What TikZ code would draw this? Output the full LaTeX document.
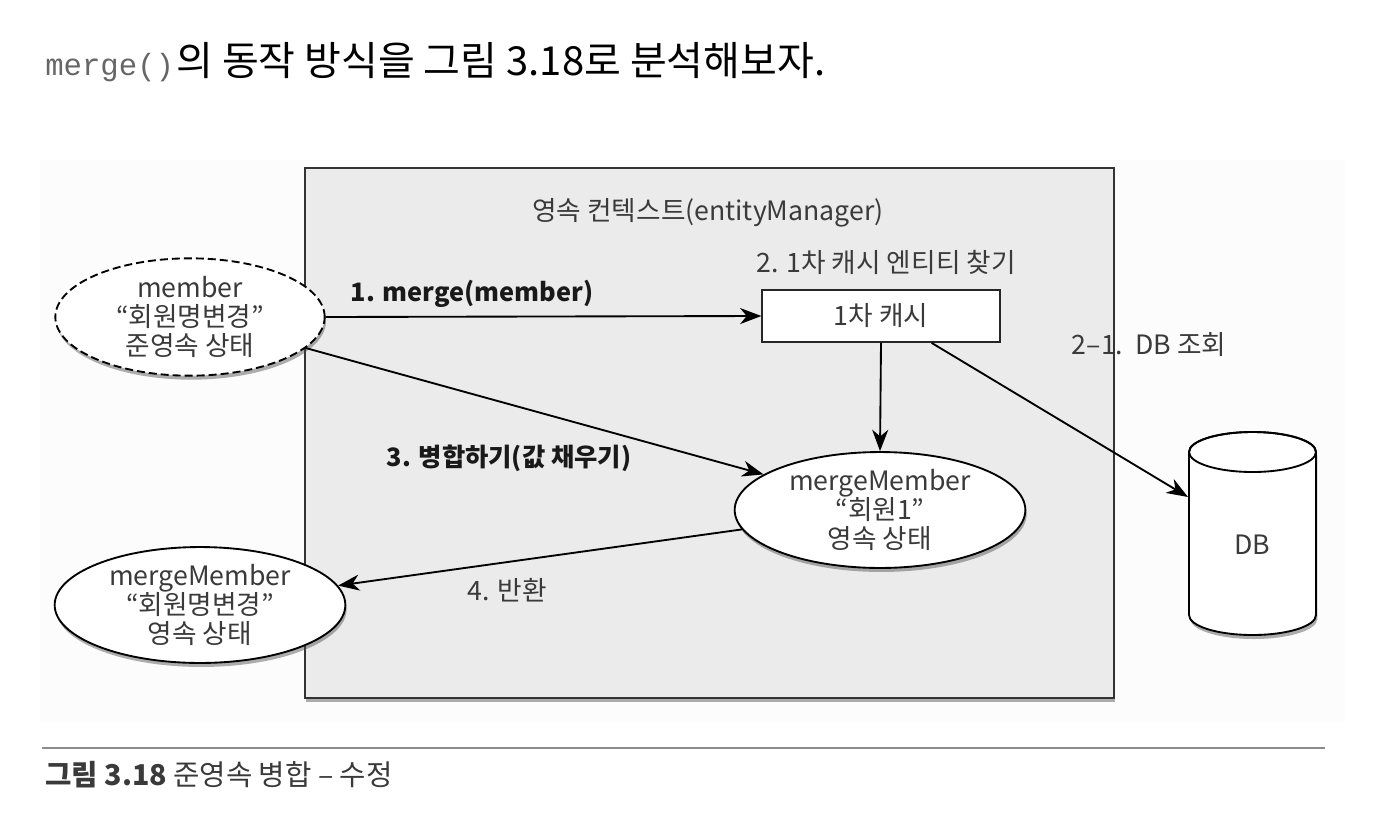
\documentclass[tikz,border=0pt]{standalone}
\usepackage{fontspec}
\setmainfont{Noto Sans CJK KR}
\setmonofont{Liberation Mono}
\usetikzlibrary{arrows.meta,positioning,shapes.geometric,shadows}
\definecolor{ctxgray}{HTML}{EBEBEB}
\definecolor{ink}{HTML}{3A3A3A}
\tikzset{
  softshadow/.style={drop shadow={shadow xshift=1pt, shadow yshift=-3pt, opacity=0.45, fill=black!70}},
  state/.style={ellipse, draw=black, line width=1.4pt, fill=white, inner sep=0pt,
    minimum width=218pt, minimum height=86pt, align=center, text=ink,
    font=\fontsize{20pt}{22pt}\selectfont, softshadow},
  cachebox/.style={draw=black!85, line width=1.4pt, fill=white, minimum width=178pt,
    minimum height=39pt, text=ink, font=\fontsize{20pt}{22pt}\selectfont},
  lbl/.style={text=ink, font=\fontsize{20pt}{22pt}\selectfont},
  blbl/.style={text=black!90, font=\fontsize{19pt}{22pt}\selectfont\bfseries},
  arrow/.style={-{Stealth[length=16pt, width=12pt, inset=5pt]}, line width=1.4pt},
}

\begin{document}
\begin{tikzpicture}[x=0.75pt,y=0.75pt]
  \useasboundingbox (0,0) rectangle (1380,-832);
  \fill[white] (0,0) rectangle (1380,-832);
  \fill[black!1] (40,-160) rectangle (1345,-722);

  % heading
  \node[anchor=west, inner sep=0pt] (head) at (45,-62)
    {\textcolor{black!60}{\fontsize{23pt}{27pt}\ttfamily merge()}\,\fontsize{30pt}{34pt}\selectfont 의 동작 방식을 그림 3.18로 분석해보자.};

  % persistence context
  \draw[draw=black!80, line width=1.4pt, fill=ctxgray, softshadow] (305,-168) rectangle (1114,-698);
  \node[lbl] (ctx) at (708,-213) {영속 컨텍스트(entityManager)};
  \node[lbl] (find) at (886,-262) {2. 1차 캐시 엔티티 찾기};
  \node[cachebox] (cache) at (881,-316) {1차 캐시};

  % entities
  \node[state, dashed, dash pattern=on 6pt off 3pt, minimum width=202pt, minimum height=88pt] (member) at (190,-317)
    {member\\“회원명변경”\\준영속 상태};
  \node[state] (merged) at (880,-510) {mergeMember\\“회원1”\\영속 상태};
  \node[state, minimum height=85pt] (result) at (200,-605) {mergeMember\\“회원명변경”\\영속 상태};

  % database
  \draw[line width=1.4pt, fill=white, softshadow] (1189,-452) -- (1189,-615)
    arc[start angle=180, end angle=360, x radius=63.5, y radius=20] -- (1316,-452)
    arc[start angle=0, end angle=180, x radius=63.5, y radius=20] -- cycle;
  \draw[line width=1.4pt] (1252.5,-452) ellipse[x radius=63.5, y radius=20];
  \node[lbl] (db) at (1252,-545) {DB};
  \coordinate (dbin) at (1188,-497);

  % steps
  \draw[arrow] (member.east) -- (cache.west);
  \node[blbl] (mergelbl) at (472,-294) {1. merge(member)};
  \draw[arrow] (cache.south) -- (merged.north);
  \draw[arrow] (cache.-28) -- (dbin);
  \node[lbl] (dblbl) at (1149,-345) {2–1.\ \ DB 조회};
  \draw[arrow] (member.-15) -- (merged.163);
  \node[blbl] (filllbl) at (509,-458) {3. 병합하기(값 채우기)};
  \draw[arrow] (merged.188) -- (result.8);
  \node[lbl] (retlbl) at (507,-590) {4. 반환};

  % caption
  \draw[black!45, line width=0.8pt] (42,-748) -- (1325,-748);
  \node[anchor=west, inner sep=0pt, text=ink, font=\fontsize{21.5pt}{24pt}\selectfont] (caption) at (45,-775)
    {\textbf{그림 3.18} 준영속 병합 – 수정};
\end{tikzpicture}
\end{document}
